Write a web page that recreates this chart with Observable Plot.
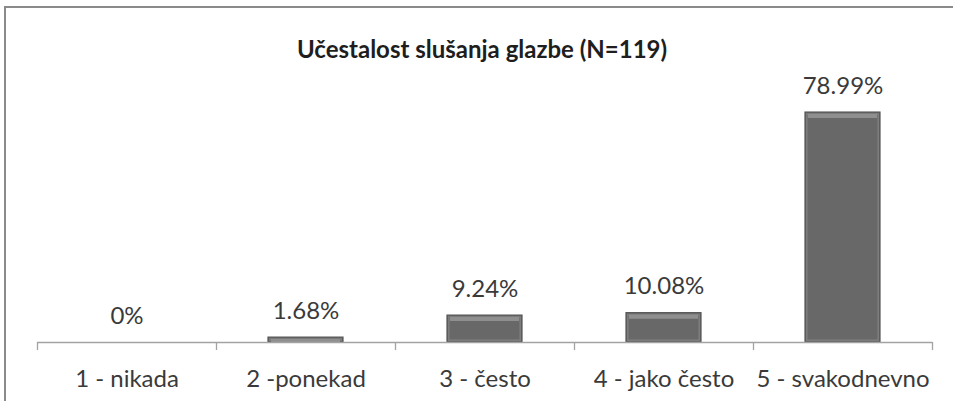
<!DOCTYPE html>
<html><head><meta charset="utf-8">
<script src="https://cdn.jsdelivr.net/npm/d3@7"></script>
<script src="https://cdn.jsdelivr.net/npm/@observablehq/plot@0.6"></script>
<style>
html,body{margin:0;padding:0;background:#fff;overflow:hidden;width:953px;height:401px}
#wrap{position:relative;width:953px;height:401px;overflow:hidden}
#frame{position:absolute;left:4px;top:6px;width:1200px;height:800px;border:2px solid #8a8a8a;box-sizing:border-box}
#chart{position:absolute;left:0;top:0}
</style></head>
<body><div id="wrap"><div id="frame"></div><div id="chart"></div></div>
<script>
const title = "Učestalost slušanja glazbe (N=119)";
const categories = ["1 - nikada", "2 -ponekad", "3 - često", "4 - jako često", "5 - svakodnevno"];
const values = [0, 1.68, 9.24, 10.08, 78.99];
const valueLabels = ["0%", "1.68%", "9.24%", "10.08%", "78.99%"];

const W = 953, H = 401, ml = 37, mr = 21, mt = 80, mb = 59;
const data = categories.map((c, i) => ({cat: c, value: values[i], label: valueLabels[i]}));
const shown = data.filter(d => d.value > 0);
const step = (W - ml - mr) / categories.length;
const axisColor = "#a3a3a3";
const textColor = "#3a3a3a";

const plot = Plot.plot({
  width: W, height: H,
  marginLeft: ml, marginRight: mr, marginTop: mt, marginBottom: mb,
  style: {fontFamily: "Lato, 'Open Sans', sans-serif", background: "transparent", color: textColor},
  x: {domain: categories, paddingInner: 0.58, paddingOuter: 0.29, label: null},
  y: {domain: [0, 90], axis: null, label: null},
  marks: [
    Plot.barY(data, {x: "cat", y: "value", fill: "#686868", stroke: "#555555", strokeWidth: 1.2}),
    Plot.barY(shown, {x: "cat", y: "value", fill: "none", stroke: "#7e7e7e", strokeWidth: 1.5, inset: 1.8}),
    Plot.tickY(shown, {x: "cat", y: "value", dy: 3.5, stroke: "#8f8f8f", strokeWidth: 4, insetLeft: 3, insetRight: 3}),
    Plot.ruleY([0], {stroke: axisColor, strokeWidth: 1.3}),
    Plot.ruleX(categories, {x: d => d, dx: -step / 2, y1: 0, y2: 0, insetBottom: -8, stroke: axisColor, strokeWidth: 1.3}),
    Plot.ruleX(categories.slice(-1), {x: d => d, dx: step / 2, y1: 0, y2: 0, insetBottom: -8, stroke: axisColor, strokeWidth: 1.3}),
    Plot.text(data, {x: "cat", y: "value", text: "label", lineAnchor: "bottom", dy: -19, fontSize: 24, fill: textColor}),
    Plot.axisX({tickSize: 0, tickPadding: 27, fontSize: 24, fill: textColor, label: null}),
    Plot.text([title], {frameAnchor: "top", dx: -3, dy: -40, fontSize: 24, fontWeight: "bold", fill: "#1e1e1e"})
  ]
});
document.getElementById("chart").appendChild(plot);
</script>
</body></html>
